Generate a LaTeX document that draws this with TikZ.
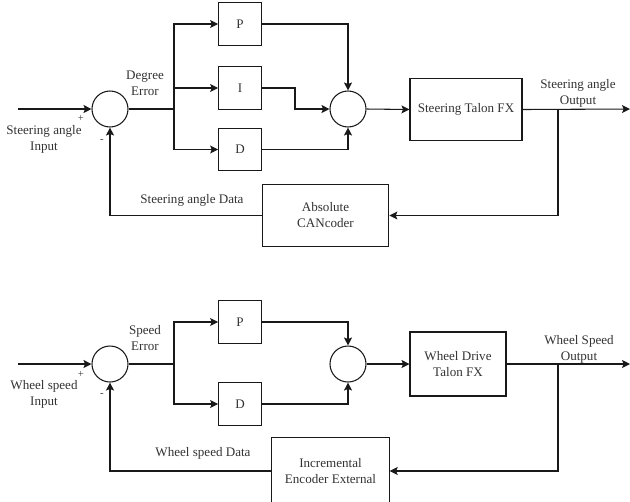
\documentclass[tikz,border=0pt]{standalone}
\usepackage{fontspec}
\setmainfont{Liberation Serif}
\usetikzlibrary{positioning,arrows.meta}

\tikzset{
  blk/.style={draw, inner sep=0pt, align=center},
  sumc/.style={draw, circle, minimum size=27pt, inner sep=0pt},
  lbl/.style={align=center},
  sgn/.style={font=\fontsize{8}{8}\selectfont, inner sep=0pt},
}

\begin{document}
\begin{tikzpicture}[x=0.75pt, y=-0.75pt, line width=0.8pt, draw=black!90,
  text=black!80, >={Stealth[length=6pt,width=6pt,inset=1.2pt]},
  font=\fontsize{9.8}{12}\selectfont]
  \useasboundingbox (0,0) rectangle (630,501);

  % steering loop
  \coordinate (inA) at (18,109);
  \coordinate (brA) at (174,109);
  \coordinate (tapA) at (558,109);
  \coordinate (outA) at (630,109);
  \coordinate (bendA) at (295,88);
  \node[sumc] (sumA1) at (110,109) {};
  \node[sumc] (sumA2) at (348,109) {};
  \node[blk, minimum width=32pt, minimum height=32pt] (pA) at (240,24) {P};
  \node[blk, minimum width=32pt, minimum height=32pt] (iA) at (240,88) {I};
  \node[blk, minimum width=32pt, minimum height=32pt] (dA) at (240,149.5) {D};
  \node[blk, minimum width=84pt, minimum height=47pt] (talonA) at (466,109.5) {Steering Talon FX};
  \node[blk, minimum width=95pt, minimum height=47pt] (cancoder) at (325.5,215.5) {Absolute\\CANcoder};

  \draw[->] (inA) -- (sumA1.west);
  \draw (sumA1.east) -- (brA);
  \draw[->] (brA) |- (pA.west);
  \draw[->] (brA) |- (iA.west);
  \draw[->] (brA) |- (dA.west);
  \draw[->] (pA.east) -| (sumA2.north);
  \draw[->] (iA.east) -| (bendA |- sumA2) -- (sumA2.west);
  \draw[->] (dA.east) -| (sumA2.south);
  \draw[->] (sumA2.east) -- (talonA.west);
  \draw[->] (talonA.east) -- (outA);
  \draw[->] (tapA) |- (cancoder.east);
  \draw[->] (cancoder.west) -| (sumA1.south);

  \node[lbl] (inAtxt) at (44,139) {Steering angle\\Input};
  \node[lbl] (errA) at (145,83) {Degree\\Error};
  \node[lbl] (outAtxt) at (578,93.5) {Steering angle\\Output};
  \node[lbl] (dataA) at (192,200) {Steering angle Data};
  \node[sgn] (plusA) at (81,118) {+};
  \node[sgn] (minusA) at (102,141) {-};

  % wheel speed loop
  \coordinate (inB) at (18,364);
  \coordinate (brB) at (174,364);
  \coordinate (tapB) at (558,364);
  \coordinate (outB) at (630,364);
  \node[sumc] (sumB1) at (110,364) {};
  \node[sumc] (sumB2) at (348,364) {};
  \node[blk, minimum width=32pt, minimum height=32pt] (pB) at (240,322) {P};
  \node[blk, minimum width=32pt, minimum height=32pt] (dB) at (240,404) {D};
  \node[blk, minimum width=72pt, minimum height=48pt] (talonB) at (458,364) {Wheel Drive\\Talon FX};
  \node[blk, minimum width=88pt, minimum height=50pt] (encoder) at (330.5,471) {Incremental\\Encoder External};

  \draw[->] (inB) -- (sumB1.west);
  \draw (sumB1.east) -- (brB);
  \draw[->] (brB) |- (pB.west);
  \draw[->] (brB) |- (dB.west);
  \draw[->] (pB.east) -| (sumB2.north);
  \draw[->] (dB.east) -| (sumB2.south);
  \draw[->] (sumB2.east) -- (talonB.west);
  \draw[->] (talonB.east) -- (outB);
  \draw[->] (tapB) |- (encoder.east);
  \draw[->] (encoder.west) -| (sumB1.south);

  \node[lbl] (inBtxt) at (44,394) {Wheel speed\\Input};
  \node[lbl] (errB) at (145,338) {Speed\\Error};
  \node[lbl] (outBtxt) at (579,349) {Wheel Speed\\Output};
  \node[lbl] (dataB) at (203,453) {Wheel speed Data};
  \node[sgn] (plusB) at (81,374) {+};
  \node[sgn] (minusB) at (102,395) {-};
\end{tikzpicture}
\end{document}
